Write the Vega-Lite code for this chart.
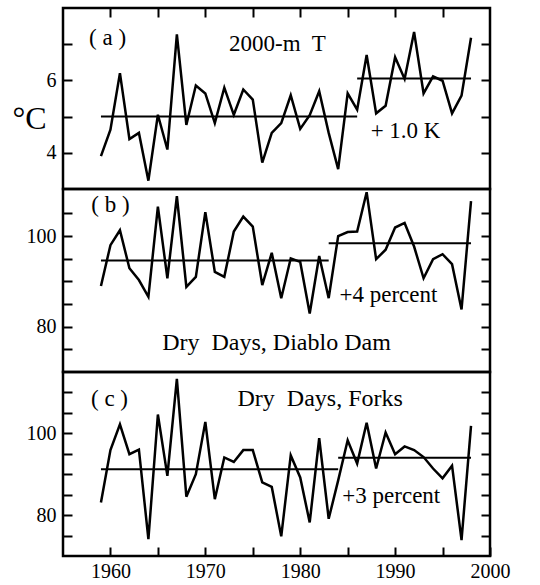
{
  "$schema": "https://vega.github.io/schema/vega-lite/v6.json",
  "padding": {"left": 10, "top": 5, "right": 10, "bottom": 5},
  "spacing": 0,
  "bounds": "flush",
  "config": {
    "font": "Liberation Serif, Times New Roman, DejaVu Serif, serif",
    "view": {"stroke": "black", "strokeWidth": 2.5},
    "axis": {"labelFont": "Liberation Serif, Times New Roman, DejaVu Serif, serif", "labelFontSize": 20, "labelColor": "black", "tickColor": "black", "tickWidth": 2, "domain": false, "grid": false, "titleFont": "Liberation Serif, Times New Roman, DejaVu Serif, serif", "titleColor": "black", "titleFontWeight": "normal", "labelFlush": false},
    "text": {"font": "Liberation Serif, Times New Roman, DejaVu Serif, serif", "fontSize": 23, "color": "black", "align": "center", "baseline": "middle"}
  },
  "datasets": {
    "series": [
      {"year": 1959, "temp": 3.91, "diablo": 89.0, "forks": 83.1},
      {"year": 1960, "temp": 4.64, "diablo": 98.0, "forks": 95.9},
      {"year": 1961, "temp": 6.2, "diablo": 101.3, "forks": 102.2},
      {"year": 1962, "temp": 4.38, "diablo": 92.9, "forks": 94.9},
      {"year": 1963, "temp": 4.55, "diablo": 90.3, "forks": 96.0},
      {"year": 1964, "temp": 3.23, "diablo": 86.6, "forks": 74.1},
      {"year": 1965, "temp": 5.05, "diablo": 106.5, "forks": 104.6},
      {"year": 1966, "temp": 4.09, "diablo": 90.7, "forks": 89.6},
      {"year": 1967, "temp": 7.27, "diablo": 108.8, "forks": 113.3},
      {"year": 1968, "temp": 4.77, "diablo": 88.8, "forks": 84.5},
      {"year": 1969, "temp": 5.86, "diablo": 91.0, "forks": 90.0},
      {"year": 1970, "temp": 5.64, "diablo": 105.3, "forks": 102.8},
      {"year": 1971, "temp": 4.82, "diablo": 92.1, "forks": 83.9},
      {"year": 1972, "temp": 5.8, "diablo": 91.0, "forks": 94.1},
      {"year": 1973, "temp": 5.05, "diablo": 101.0, "forks": 93.0},
      {"year": 1974, "temp": 5.75, "diablo": 104.3, "forks": 95.9},
      {"year": 1975, "temp": 5.47, "diablo": 102.1, "forks": 95.9},
      {"year": 1976, "temp": 3.73, "diablo": 89.2, "forks": 88.0},
      {"year": 1977, "temp": 4.55, "diablo": 96.3, "forks": 86.9},
      {"year": 1978, "temp": 4.82, "diablo": 86.3, "forks": 74.8},
      {"year": 1979, "temp": 5.59, "diablo": 95.1, "forks": 94.6},
      {"year": 1980, "temp": 4.66, "diablo": 94.3, "forks": 89.2},
      {"year": 1981, "temp": 5.04, "diablo": 82.9, "forks": 78.2},
      {"year": 1982, "temp": 5.7, "diablo": 95.6, "forks": 98.8},
      {"year": 1983, "temp": 4.55, "diablo": 86.3, "forks": 79.1},
      {"year": 1984, "temp": 3.55, "diablo": 100.0, "forks": 88.5},
      {"year": 1985, "temp": 5.64, "diablo": 100.9, "forks": 98.3},
      {"year": 1986, "temp": 5.19, "diablo": 101.0, "forks": 92.6},
      {"year": 1987, "temp": 6.7, "diablo": 109.7, "forks": 102.6},
      {"year": 1988, "temp": 5.09, "diablo": 94.9, "forks": 91.4},
      {"year": 1989, "temp": 5.3, "diablo": 97.0, "forks": 100.2},
      {"year": 1990, "temp": 6.64, "diablo": 101.9, "forks": 94.9},
      {"year": 1991, "temp": 6.04, "diablo": 102.9, "forks": 96.8},
      {"year": 1992, "temp": 7.34, "diablo": 97.7, "forks": 95.9},
      {"year": 1993, "temp": 5.64, "diablo": 90.7, "forks": 94.2},
      {"year": 1994, "temp": 6.11, "diablo": 94.9, "forks": 91.4},
      {"year": 1995, "temp": 5.99, "diablo": 96.0, "forks": 89.0},
      {"year": 1996, "temp": 5.09, "diablo": 93.8, "forks": 92.1},
      {"year": 1997, "temp": 5.58, "diablo": 83.8, "forks": 73.9},
      {"year": 1998, "temp": 7.18, "diablo": 107.7, "forks": 101.8}
    ],
    "means": [
      {"panel": "a", "from": 1959, "to": 1986, "mean": 5.0},
      {"panel": "a", "from": 1986, "to": 1998, "mean": 6.05},
      {"panel": "b", "from": 1959, "to": 1983, "mean": 94.6},
      {"panel": "b", "from": 1983, "to": 1998, "mean": 98.4},
      {"panel": "c", "from": 1959, "to": 1984, "mean": 91.2},
      {"panel": "c", "from": 1984, "to": 1998, "mean": 94.0}
    ],
    "one": [{}]
  },
  "vconcat": [
    {
      "width": 427, "height": 181,
      "resolve": {"axis": {"x": "independent", "y": "independent"}},
      "layer": [
        {
          "data": {"name": "series"},
          "mark": {"type": "line", "color": "black", "strokeWidth": 2.5},
          "encoding": {
            "x": {"field": "year", "type": "quantitative", "scale": {"domain": [1955, 2000], "nice": false, "zero": false},
                  "axis": {"orient": "top", "values": [1960, 1965, 1970, 1975, 1980, 1985, 1990, 1995], "labels": false, "tickSize": -9, "title": null}},
            "y": {"field": "temp", "type": "quantitative", "scale": {"domain": [3, 8], "nice": false, "zero": false},
                  "axis": {"values": [4, 5, 6, 7], "labelExpr": "datum.value % 2 == 0 ? datum.label : ''", "tickSize": -9, "labelPadding": 16,
                           "title": "°C", "titleAngle": 0, "titleFontSize": 32, "titleX": -34, "titleY": 110, "titleAlign": "center", "titleBaseline": "middle"}}
          }
        },
        {
          "data": {"name": "means"},
          "transform": [{"filter": "datum.panel == 'a'"}],
          "mark": {"type": "rule", "color": "black", "strokeWidth": 2},
          "encoding": {
            "x": {"field": "from", "type": "quantitative", "axis": null},
            "x2": {"field": "to"},
            "y": {"field": "mean", "type": "quantitative", "axis": {"orient": "right", "values": [4, 5, 6, 7], "labels": false, "tickSize": -9, "title": null}}
          }
        },
        {"data": {"name": "one"}, "mark": {"type": "text", "text": "( a )"}, "encoding": {"x": {"datum": 1959.7, "type": "quantitative", "axis": null}, "y": {"datum": 7.17, "type": "quantitative", "axis": null}}},
        {"data": {"name": "one"}, "mark": {"type": "text", "text": "2000-m\u00a0 T"}, "encoding": {"x": {"datum": 1977.6, "type": "quantitative", "axis": null}, "y": {"datum": 7.0, "type": "quantitative", "axis": null}}},
        {"data": {"name": "one"}, "mark": {"type": "text", "text": "+ 1.0 K"}, "encoding": {"x": {"datum": 1991.1, "type": "quantitative", "axis": null}, "y": {"datum": 4.59, "type": "quantitative", "axis": null}}}
      ]
    },
    {
      "width": 427, "height": 183,
      "resolve": {"axis": {"x": "independent", "y": "independent"}},
      "layer": [
        {
          "data": {"name": "series"},
          "mark": {"type": "line", "color": "black", "strokeWidth": 2.5},
          "encoding": {
            "x": {"field": "year", "type": "quantitative", "scale": {"domain": [1955, 2000], "nice": false, "zero": false}, "axis": null},
            "y": {"field": "diablo", "type": "quantitative", "scale": {"domain": [70, 110.4], "nice": false, "zero": false},
                  "axis": {"values": [75, 80, 85, 90, 95, 100, 105], "labelExpr": "datum.value % 20 == 0 ? datum.label : ''", "tickSize": -9, "labelPadding": 16, "title": null}}
          }
        },
        {
          "data": {"name": "means"},
          "transform": [{"filter": "datum.panel == 'b'"}],
          "mark": {"type": "rule", "color": "black", "strokeWidth": 2},
          "encoding": {
            "x": {"field": "from", "type": "quantitative", "axis": null},
            "x2": {"field": "to"},
            "y": {"field": "mean", "type": "quantitative", "axis": {"orient": "right", "values": [75, 80, 85, 90, 95, 100, 105], "labels": false, "tickSize": -9, "title": null}}
          }
        },
        {"data": {"name": "one"}, "mark": {"type": "text", "text": "( b )"}, "encoding": {"x": {"datum": 1960.0, "type": "quantitative", "axis": null}, "y": {"datum": 106.8, "type": "quantitative", "axis": null}}},
        {"data": {"name": "one"}, "mark": {"type": "text", "text": "+4 percent"}, "encoding": {"x": {"datum": 1989.3, "type": "quantitative", "axis": null}, "y": {"datum": 87.0, "type": "quantitative", "axis": null}}},
        {"data": {"name": "one"}, "mark": {"type": "text", "text": "Dry\u00a0 Days, Diablo Dam", "fontSize": 24}, "encoding": {"x": {"datum": 1977.5, "type": "quantitative", "axis": null}, "y": {"datum": 76.3, "type": "quantitative", "axis": null}}}
      ]
    },
    {
      "width": 427, "height": 184,
      "resolve": {"axis": {"x": "independent", "y": "independent"}},
      "layer": [
        {
          "data": {"name": "series"},
          "mark": {"type": "line", "color": "black", "strokeWidth": 2.5},
          "encoding": {
            "x": {"field": "year", "type": "quantitative", "scale": {"domain": [1955, 2000], "nice": false, "zero": false},
                  "axis": {"orient": "bottom", "values": [1960, 1965, 1970, 1975, 1980, 1985, 1990, 1995, 2000], "format": "d", "labelExpr": "datum.value % 10 == 0 ? datum.label : ''", "tickSize": -9, "labelPadding": 14, "title": null}},
            "y": {"field": "forks", "type": "quantitative", "scale": {"domain": [70, 115], "nice": false, "zero": false},
                  "axis": {"values": [75, 80, 85, 90, 95, 100, 105, 110], "labelExpr": "datum.value % 20 == 0 ? datum.label : ''", "tickSize": -9, "labelPadding": 16, "title": null}}
          }
        },
        {
          "data": {"name": "means"},
          "transform": [{"filter": "datum.panel == 'c'"}],
          "mark": {"type": "rule", "color": "black", "strokeWidth": 2},
          "encoding": {
            "x": {"field": "from", "type": "quantitative", "axis": null},
            "x2": {"field": "to"},
            "y": {"field": "mean", "type": "quantitative", "axis": {"orient": "right", "values": [75, 80, 85, 90, 95, 100, 105, 110], "labels": false, "tickSize": -9, "title": null}}
          }
        },
        {"data": {"name": "one"}, "mark": {"type": "text", "text": "( c )"}, "encoding": {"x": {"datum": 1959.9, "type": "quantitative", "axis": null}, "y": {"datum": 108.3, "type": "quantitative", "axis": null}}},
        {"data": {"name": "one"}, "mark": {"type": "text", "text": "Dry\u00a0 Days, Forks", "fontSize": 24}, "encoding": {"x": {"datum": 1982.1, "type": "quantitative", "axis": null}, "y": {"datum": 108.3, "type": "quantitative", "axis": null}}},
        {"data": {"name": "one"}, "mark": {"type": "text", "text": "+3 percent"}, "encoding": {"x": {"datum": 1989.6, "type": "quantitative", "axis": null}, "y": {"datum": 84.6, "type": "quantitative", "axis": null}}}
      ]
    }
  ]
}
